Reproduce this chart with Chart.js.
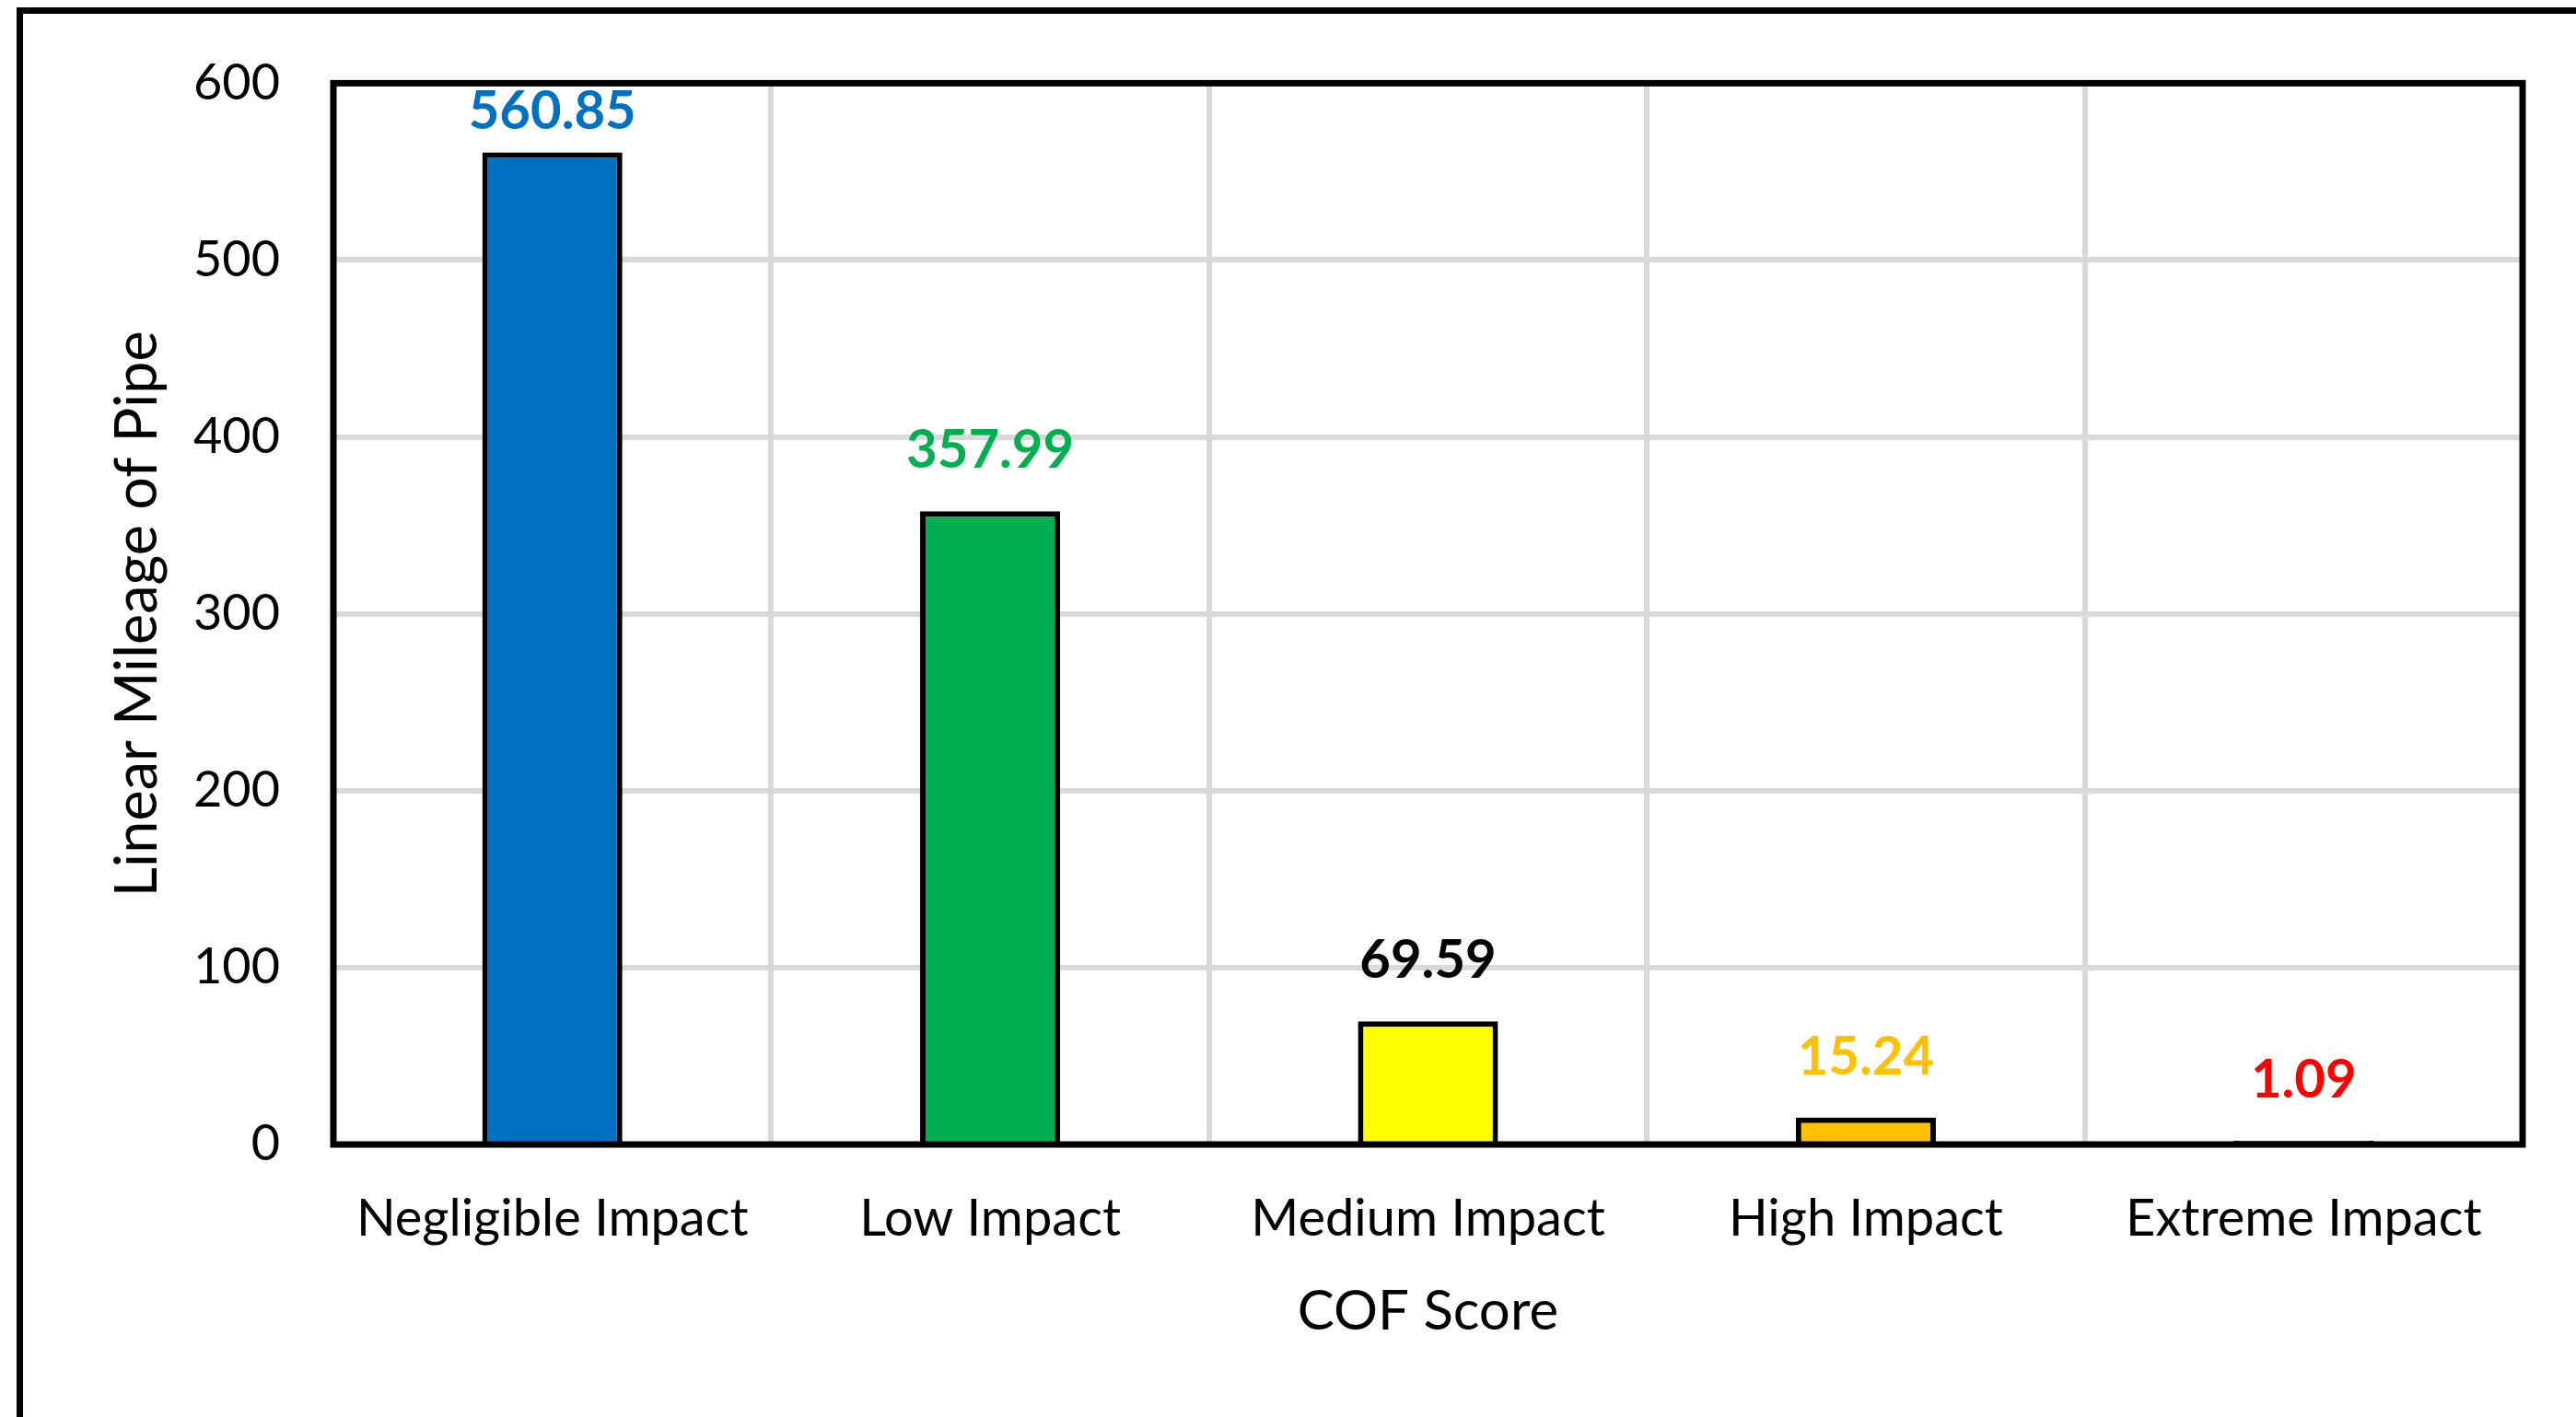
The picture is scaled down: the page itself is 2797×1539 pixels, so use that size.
<!DOCTYPE html>
<html>
<head>
<meta charset="utf-8">
<script src="https://cdn.jsdelivr.net/npm/chart.js@4"></script>
<style>
  html, body { margin: 0; padding: 0; background: #ffffff; }
  #wrap { position: absolute; left: 0; top: 0; width: 2797px; height: 1539px; }
</style>
</head>
<body>
<div id="wrap"><canvas id="c" width="2797" height="1539"></canvas></div>
<script>
// ---- data ----
const categories = ["Negligible Impact", "Low Impact", "Medium Impact", "High Impact", "Extreme Impact"];
const mileage = [560.85, 357.99, 69.59, 15.24, 1.09];
const yTicks = [0, 100, 200, 300, 400, 500, 600];
const xAxisTitle = "COF Score";
const yAxisTitle = "Linear Mileage of Pipe";

// ---- styles ----
const barColors = ["#0070C0", "#00B050", "#FFFF00", "#FFC000", "#FF0000"];
const labelColors = ["#0070C0", "#00B050", "#000000", "#FFC000", "#FF0000"];
const FONT = "Lato";

const framePlugin = {
  id: 'frames',
  beforeDraw(chart) {
    const ctx = chart.ctx;
    ctx.save();
    ctx.fillStyle = '#ffffff';
    ctx.fillRect(0, 0, chart.width, chart.height);
    // outer chart box (cropped at right/bottom)
    ctx.fillStyle = '#000000';
    ctx.fillRect(18, 8, chart.width - 18, 7);
    ctx.fillRect(18, 8, 7, chart.height - 8);
    ctx.restore();
  },
  afterDatasetsDraw(chart) {
    const ctx = chart.ctx;
    const a = chart.chartArea;
    ctx.save();
    // plot area frame
    ctx.strokeStyle = '#000000';
    ctx.lineWidth = 7;
    ctx.strokeRect(a.left, a.top, a.right - a.left, a.bottom - a.top);
    // data labels
    const meta = chart.getDatasetMeta(0);
    ctx.font = 'bold 58px ' + FONT;
    ctx.textAlign = 'center';
    ctx.textBaseline = 'alphabetic';
    meta.data.forEach((bar, i) => {
      const v = chart.data.datasets[0].data[i];
      const y = Math.max(bar.y - 47, a.top + 50);
      ctx.fillStyle = labelColors[i];
      ctx.fillText(v.toFixed(2), bar.x, y);
    });
    ctx.restore();
  }
};

new Chart(document.getElementById('c'), {
  type: 'bar',
  data: {
    labels: categories,
    datasets: [{
      data: mileage,
      backgroundColor: barColors,
      borderColor: '#000000',
      borderWidth: 6,
      borderSkipped: 'bottom',
      barPercentage: 0.32,
      categoryPercentage: 1.0,
      minBarLength: 4
    }]
  },
  options: {
    responsive: false,
    animation: false,
    devicePixelRatio: 1,
    layout: { padding: { left: 0, top: 85, right: 58, bottom: 0 } },
    plugins: {
      legend: { display: false },
      tooltip: { enabled: false },
      title: { display: false }
    },
    scales: {
      x: {
        grid: { color: '#d9d9d9', lineWidth: 6, drawTicks: false, offset: true },
        border: { display: false },
        ticks: { color: '#000000', font: { family: FONT, size: 56 }, padding: 47, maxRotation: 0, autoSkip: false },
        title: { display: true, text: xAxisTitle, color: '#000000', font: { family: FONT, size: 60 }, padding: { top: 0, bottom: 78 } },
        afterFit(scale) { scale.height = 296; }
      },
      y: {
        min: yTicks[0],
        max: yTicks[yTicks.length - 1],
        afterBuildTicks(scale) { scale.ticks = yTicks.map(v => ({ value: v })); },
        grid: { color: '#d9d9d9', lineWidth: 6, drawTicks: false },
        border: { display: false },
        ticks: { color: '#000000', font: { family: FONT, size: 54 }, padding: 58 },
        title: { display: true, text: yAxisTitle, color: '#000000', font: { family: FONT, size: 63 }, padding: { top: 112, bottom: 0 } },
        afterFit(scale) { scale.width = 362; }
      }
    }
  },
  plugins: [framePlugin]
});
</script>
</body>
</html>
